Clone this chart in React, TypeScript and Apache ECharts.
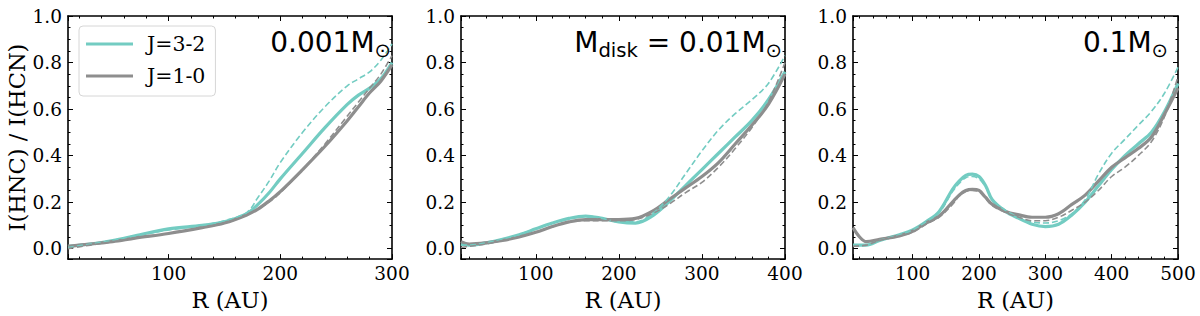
import React, { useEffect, useRef } from 'react';
import * as echarts from 'echarts';

const TEAL = '#73ccc2';
const GRAY = '#8e8e8e';

// Panel 1: M_disk = 0.001 Msun
const x1 = [10, 30, 50, 70, 100, 130, 150, 170, 180, 190, 200, 220, 240, 260, 270, 280, 290, 300];
const p1J32 = [0.01, 0.02, 0.035, 0.055, 0.085, 0.10, 0.115, 0.15, 0.19, 0.24, 0.30, 0.41, 0.52, 0.62, 0.66, 0.69, 0.73, 0.80];
const p1J10 = [0.01, 0.02, 0.03, 0.045, 0.065, 0.09, 0.11, 0.145, 0.17, 0.205, 0.245, 0.34, 0.44, 0.55, 0.61, 0.67, 0.72, 0.79];
const p1J32d = [0.005, 0.02, 0.035, 0.055, 0.08, 0.10, 0.12, 0.155, 0.22, 0.29, 0.37, 0.50, 0.61, 0.70, 0.73, 0.76, 0.81, 0.88];
const p1J10d = [0.0, 0.015, 0.03, 0.045, 0.065, 0.09, 0.11, 0.145, 0.17, 0.20, 0.24, 0.34, 0.45, 0.57, 0.63, 0.69, 0.75, 0.83];

// Panel 2: M_disk = 0.01 Msun
const x2 = [10, 20, 40, 60, 80, 100, 120, 140, 160, 180, 200, 220, 240, 260, 280, 300, 320, 340, 360, 380, 400];
const p2J32 = [0.02, 0.015, 0.025, 0.04, 0.06, 0.085, 0.11, 0.13, 0.14, 0.13, 0.115, 0.11, 0.14, 0.20, 0.27, 0.34, 0.41, 0.48, 0.55, 0.64, 0.76];
const p2J10 = [0.03, 0.02, 0.025, 0.035, 0.05, 0.07, 0.095, 0.115, 0.125, 0.125, 0.125, 0.13, 0.16, 0.21, 0.26, 0.31, 0.37, 0.45, 0.53, 0.62, 0.75];
const p2J32d = [0.015, 0.015, 0.025, 0.04, 0.06, 0.085, 0.11, 0.13, 0.14, 0.13, 0.115, 0.115, 0.15, 0.22, 0.32, 0.42, 0.51, 0.58, 0.64, 0.71, 0.83];
const p2J10d = [0.005, 0.01, 0.02, 0.035, 0.05, 0.07, 0.095, 0.115, 0.12, 0.12, 0.12, 0.125, 0.15, 0.19, 0.24, 0.285, 0.35, 0.43, 0.52, 0.63, 0.80];

// Panel 3: M_disk = 0.1 Msun
const x3 = [10, 20, 30, 50, 80, 100, 120, 140, 160, 170, 180, 190, 200, 210, 220, 240, 260, 280, 300, 320, 340, 360, 380, 400, 420, 440, 460, 480, 500];
const p3J32 = [0.015, 0.015, 0.015, 0.035, 0.06, 0.08, 0.115, 0.16, 0.255, 0.29, 0.315, 0.32, 0.31, 0.27, 0.21, 0.16, 0.13, 0.105, 0.095, 0.105, 0.145, 0.20, 0.27, 0.34, 0.40, 0.45, 0.50, 0.59, 0.71];
const p3J10 = [0.09, 0.05, 0.03, 0.04, 0.055, 0.075, 0.11, 0.14, 0.20, 0.23, 0.25, 0.255, 0.25, 0.22, 0.19, 0.16, 0.145, 0.135, 0.135, 0.15, 0.19, 0.23, 0.29, 0.35, 0.39, 0.43, 0.48, 0.58, 0.69];
const p3J32d = [0.01, 0.012, 0.015, 0.035, 0.06, 0.08, 0.115, 0.155, 0.245, 0.28, 0.305, 0.31, 0.30, 0.265, 0.21, 0.165, 0.135, 0.115, 0.11, 0.12, 0.15, 0.21, 0.32, 0.41, 0.47, 0.53, 0.59, 0.67, 0.78];
const p3J10d = [0.01, 0.012, 0.015, 0.035, 0.055, 0.07, 0.105, 0.135, 0.19, 0.225, 0.245, 0.25, 0.245, 0.215, 0.185, 0.155, 0.135, 0.12, 0.12, 0.135, 0.165, 0.20, 0.25, 0.31, 0.35, 0.40, 0.46, 0.57, 0.74];

const xMin = 10;
const xMaxes = [300, 400, 500];
const xSplits = [3, 4, 5];
const yMin = -0.045;
const yMax = 1.0;

const legendNames = ['J=3-2', 'J=1-0'];
const xName = 'R (AU)';
const yName = 'I(HNC) / I(HCN)';

const panels = [
  { x: x1, s: p1J32, g: p1J10, sd: p1J32d, gd: p1J10d },
  { x: x2, s: p2J32, g: p2J10, sd: p2J32d, gd: p2J10d },
  { x: x3, s: p3J32, g: p3J10, sd: p3J32d, gd: p3J10d },
];

const grids = [
  { left: 68, top: 16, width: 324, height: 248 },
  { left: 461, top: 16, width: 324, height: 248 },
  { left: 853, top: 16, width: 325, height: 248 },
];

const SERIF = 'DejaVu Serif';
const SANS = 'DejaVu Sans';

function buildOption() {
  const xAxis: any[] = [];
  const yAxis: any[] = [];
  const series: any[] = [];
  const lineCommon = { show: true, lineStyle: { color: '#000', width: 1.6 }, onZero: false };
  panels.forEach((p, i) => {
    [false, true].forEach((mirror) => {
      xAxis.push({
        type: 'value', gridIndex: i, min: xMin, max: xMaxes[i], splitNumber: xSplits[i],
        position: mirror ? 'top' : 'bottom',
        axisLine: lineCommon,
        axisTick: { show: true, inside: true, length: 5, lineStyle: { color: '#000', width: 1 } },
        minorTick: { show: true, splitNumber: 5, length: 2.5, lineStyle: { color: '#000', width: 1 } },
        splitLine: { show: false },
        axisLabel: mirror ? { show: false } : {
          show: true, showMinLabel: false, margin: 5, color: '#000', fontFamily: SERIF, fontSize: 18.5,
        },
        name: mirror ? '' : xName,
        nameLocation: 'middle', nameGap: 25,
        nameTextStyle: { color: '#000', fontFamily: SERIF, fontSize: 22.5 },
      });
      yAxis.push({
        type: 'value', gridIndex: i, min: yMin, max: yMax, splitNumber: 5,
        position: mirror ? 'right' : 'left',
        axisLine: lineCommon,
        axisTick: { show: true, inside: true, length: 5, lineStyle: { color: '#000', width: 1 } },
        minorTick: { show: true, splitNumber: 4, length: 2.5, lineStyle: { color: '#000', width: 1 } },
        splitLine: { show: false },
        axisLabel: mirror ? { show: false } : {
          show: true, showMinLabel: false, margin: 6, color: '#000', fontFamily: SERIF, fontSize: 18.5,
          formatter: (v: number) => v.toFixed(1),
        },
        name: !mirror && i === 0 ? yName : '',
        nameLocation: 'middle', nameGap: 35,
        nameTextStyle: { color: '#000', fontFamily: SERIF, fontSize: 22.5 },
      });
    });
    const xi = i * 2;
    const mk = (name: string, ys: number[], color: string, dashed: boolean) => ({
      type: 'line', name, xAxisIndex: xi, yAxisIndex: xi,
      data: p.x.map((xv, k) => [xv, ys[k]]),
      showSymbol: false, smooth: 0.35, color,
      itemStyle: { color },
      lineStyle: dashed ? { color, width: 1.6, type: [6, 3] } : { color, width: 3.2 },
      emphasis: { disabled: true },
      z: dashed ? 3 : 2,
    });
    series.push(mk(i === 0 ? legendNames[0] : `p${i}s`, p.s, TEAL, false));
    series.push(mk(i === 0 ? legendNames[1] : `p${i}g`, p.g, GRAY, false));
    series.push(mk(`p${i}sd`, p.sd, TEAL, true));
    series.push(mk(`p${i}gd`, p.gd, GRAY, true));
  });

  const richBase = {
    a: { fontFamily: SANS, fontSize: 28, lineHeight: 28, fill: '#000' },
    s: { fontFamily: SANS, fontSize: 19.6, lineHeight: 12, padding: [16, 0, 0, 0], fill: '#000' },
  };

  return {
    animation: false,
    backgroundColor: '#fff',
    grid: grids,
    xAxis, yAxis, series,
    legend: {
      orient: 'vertical', left: 79, top: 26, padding: [7, 10, 9, 7], itemGap: 10,
      itemWidth: 47, itemHeight: 3, icon: 'rect',
      backgroundColor: 'rgba(255,255,255,0.8)', borderColor: '#d6d6d6', borderWidth: 1, borderRadius: 4,
      textStyle: { fontFamily: SERIF, fontSize: 20.5, lineHeight: 22, color: '#000', padding: [0, 0, 0, 9] },
      data: legendNames,
      selectedMode: false,
    },
    graphic: [
      { type: 'text', right: 809, top: 24, z: 10, style: { text: '{a|0.001M}{s|⊙}', rich: richBase } },
      { type: 'text', right: 418, top: 24, z: 10, style: { text: '{a|M}{s|disk}{a| = 0.01M}{s|⊙}', rich: richBase } },
      { type: 'text', right: 32, top: 24, z: 10, style: { text: '{a|0.1M}{s|⊙}', rich: richBase } },
    ],
  };
}

export default function App() {
  const ref = useRef<HTMLDivElement>(null);
  useEffect(() => {
    if (!ref.current) return;
    const chart = echarts.init(ref.current, null, { renderer: 'svg' });
    chart.setOption(buildOption() as any);
    return () => chart.dispose();
  }, []);
  return (
    <div
      ref={ref}
      style={{ position: 'fixed', left: 0, top: 0, width: 1200, height: 316, background: '#fff' }}
    />
  );
}
